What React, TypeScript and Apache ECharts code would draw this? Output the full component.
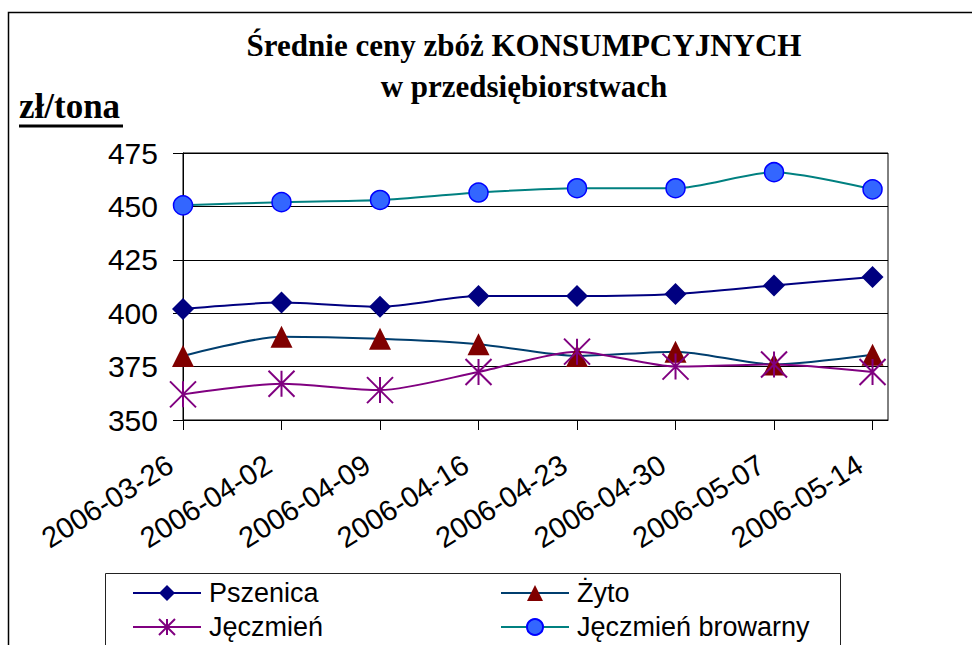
import React, { useEffect, useRef } from "react";
import * as echarts from "echarts";

const categories = [
  "2006-03-26",
  "2006-04-02",
  "2006-04-09",
  "2006-04-16",
  "2006-04-23",
  "2006-04-30",
  "2006-05-07",
  "2006-05-14",
];
const pszenica = [402, 405, 403, 408, 408, 409, 413, 417];
const zyto = [380, 389, 388, 385.5, 380, 382, 376, 380.5];
const jeczmien = [362, 367, 364, 372.5, 382, 375, 376, 372.5];
const browarny = [450.5, 452, 453, 456.5, 458.5, 458.5, 466, 458];
const yMin = 350;
const yMax = 475;
const yStep = 25;

const titleLine1 = "Średnie ceny zbóż KONSUMPCYJNYCH";
const titleLine2 = "w przedsiębiorstwach";
const unitLabel = "zł/tona";

const ASTERISK = "path://M0,0L20,20M20,0L0,20M10,0L10,20";

const toPairs = (vals: number[]) => vals.map((v, i) => [i, v]);

export default function App() {
  const ref = useRef<HTMLDivElement>(null);
  useEffect(() => {
    if (!ref.current) return;
    const chart = echarts.init(ref.current, null, { renderer: "svg" });
    const idx = categories.map((_, i) => i);
    const legendText = {
      fontSize: 27,
      fontFamily: "Liberation Sans",
      color: "#000",
      lineHeight: 30,
      padding: [0, 0, 0, 3],
    };
    chart.setOption({
      animation: false,
      backgroundColor: "#fff",
      grid: {
        left: 183,
        right: 84,
        top: 153,
        bottom: 225,
        show: true,
        borderColor: "#000",
        borderWidth: 1,
        backgroundColor: "transparent",
      },
      xAxis: {
        type: "value",
        min: 0,
        max: categories.length - 1 + 0.157,
        axisLine: { show: true, lineStyle: { color: "#000", width: 1 } },
        axisTick: {
          show: true,
          length: 10,
          customValues: idx,
          lineStyle: { color: "#000", width: 1 },
        },
        axisLabel: {
          customValues: idx,
          formatter: (v: number) => categories[Math.round(v)] ?? "",
          rotate: 32,
          fontSize: 29,
          fontFamily: "Liberation Sans",
          color: "#000",
          margin: 34,
          padding: [0, 15, 0, 0],
        },
        splitLine: { show: false },
      },
      yAxis: {
        type: "value",
        min: yMin,
        max: yMax,
        interval: yStep,
        axisLine: { show: true, lineStyle: { color: "#000", width: 1 } },
        axisTick: { show: true, length: 10, lineStyle: { color: "#000" } },
        axisLabel: {
          fontSize: 30,
          fontFamily: "Liberation Sans",
          color: "#000",
          margin: 25,
        },
        splitLine: { show: true, lineStyle: { color: "#000", width: 1 } },
      },
      legend: [
        {
          orient: "vertical",
          left: 132,
          top: 578,
          padding: 0,
          itemWidth: 68,
          itemHeight: 20,
          itemGap: 4,
          selectedMode: false,
          data: ["Pszenica", "Jęczmień"],
          textStyle: legendText,
        },
        {
          orient: "vertical",
          left: 500,
          top: 578,
          padding: 0,
          itemWidth: 68,
          itemHeight: 20,
          itemGap: 4,
          selectedMode: false,
          data: ["Żyto", "Jęczmień browarny"],
          textStyle: legendText,
        },
      ],
      series: [
        {
          name: "Pszenica",
          type: "line",
          data: toPairs(pszenica),
          smooth: 0.25,
          symbol: "diamond",
          symbolSize: 22,
          lineStyle: { color: "#000080", width: 2 },
          itemStyle: { color: "#000080" },
        },
        {
          name: "Żyto",
          type: "line",
          data: toPairs(zyto),
          smooth: 0.25,
          symbol: "triangle",
          symbolSize: 22,
          lineStyle: { color: "#003E6E", width: 2 },
          itemStyle: { color: "#800000" },
        },
        {
          name: "Jęczmień",
          type: "line",
          data: toPairs(jeczmien),
          smooth: 0.25,
          symbol: ASTERISK,
          symbolSize: [26, 26],
          lineStyle: { color: "#800080", width: 2 },
          itemStyle: {
            color: "rgba(0,0,0,0)",
            borderColor: "#800080",
            borderWidth: 2,
          },
        },
        {
          name: "Jęczmień browarny",
          type: "line",
          data: toPairs(browarny),
          smooth: 0.25,
          symbol: "circle",
          symbolSize: 19,
          lineStyle: { color: "#008080", width: 2 },
          itemStyle: {
            color: "#3366FF",
            borderColor: "#0000FF",
            borderWidth: 1.5,
          },
        },
      ],
      graphic: [
        {
          type: "rect",
          silent: true,
          shape: { x: 8.5, y: 12.5, width: 1000, height: 700 },
          style: { fill: "none", stroke: "#000", lineWidth: 1.5 },
          z: -10,
        },
        {
          type: "text",
          x: 524,
          y: 45,
          style: {
            text: titleLine1,
            font: 'bold 31px "Liberation Serif"',
            fill: "#000",
            textAlign: "center",
            textVerticalAlign: "middle",
          },
        },
        {
          type: "text",
          x: 524,
          y: 86,
          style: {
            text: titleLine2,
            font: 'bold 31px "Liberation Serif"',
            fill: "#000",
            textAlign: "center",
            textVerticalAlign: "middle",
          },
        },
        {
          type: "text",
          x: 19,
          y: 106,
          style: {
            text: unitLabel,
            font: 'bold 35px "Liberation Serif"',
            fill: "#000",
            textAlign: "left",
            textVerticalAlign: "middle",
          },
        },
        {
          type: "rect",
          silent: true,
          shape: { x: 19, y: 124.5, width: 104, height: 3 },
          style: { fill: "#000" },
        },
        {
          type: "rect",
          silent: true,
          shape: { x: 105.5, y: 573.5, width: 735, height: 120 },
          style: { fill: "none", stroke: "#222", lineWidth: 1 },
        },
      ],
    });
    return () => chart.dispose();
  }, []);
  return (
    <div
      ref={ref}
      style={{ position: "fixed", left: 0, top: 0, width: 972, height: 645 }}
    />
  );
}
